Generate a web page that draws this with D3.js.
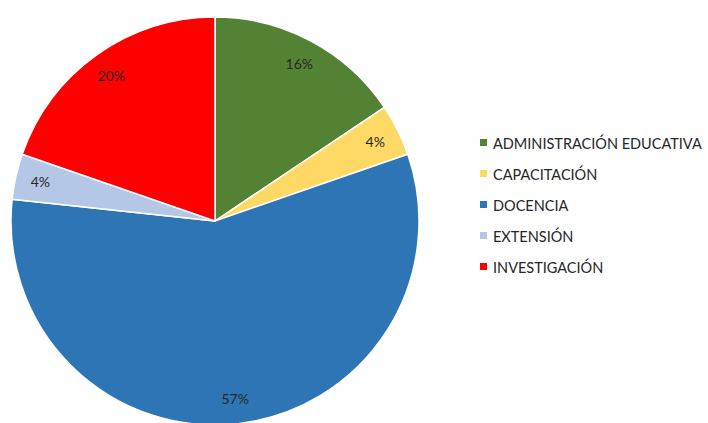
<!DOCTYPE html>
<html><head><meta charset="utf-8">
<script src="https://cdn.jsdelivr.net/npm/d3@7"></script>
<style>body{margin:0;background:#fff}svg{display:block}</style>
</head><body>
<script>
const categories = ["ADMINISTRACIÓN EDUCATIVA","CAPACITACIÓN","DOCENCIA","EXTENSIÓN","INVESTIGACIÓN"];
const values = [15.6, 4.1, 57.0, 3.6, 19.7];
const labels = ["16%","4%","57%","4%","20%"];
const colors = ["#548235","#FFD966","#2E75B6","#B4C7E7","#FF0000"];

const W=708,H=423;
const svg=d3.select("body").append("svg").attr("width",W).attr("height",H);
const cx=215, cy=221, R=204;
const data=categories.map((c,i)=>({c,v:values[i],l:labels[i],col:colors[i]}));
const pie=d3.pie().value(d=>d.v).sort(null);
const arc=d3.arc().innerRadius(0).outerRadius(R);
const labArc=d3.arc().innerRadius(179).outerRadius(179);
const g=svg.append("g").attr("transform",`translate(${cx},${cy})`);
const arcs=pie(data);
g.selectAll("path").data(arcs).join("path").attr("d",arc).attr("fill",d=>d.data.col)
 .attr("stroke","#fff").attr("stroke-width",1.5);
g.selectAll("text").data(arcs).join("text")
 .attr("transform",d=>`translate(${labArc.centroid(d)})`)
 .attr("text-anchor","middle").attr("dominant-baseline","central")
 .attr("font-family","Lato, 'Open Sans', sans-serif").attr("font-size",14).attr("fill","#262626")
 .text(d=>d.data.l);

const lg=svg.append("g").attr("transform","translate(480,143)");
const it=lg.selectAll("g").data(data).join("g").attr("transform",(d,i)=>`translate(0,${i*31})`);
it.append("rect").attr("x",0).attr("y",-4).attr("width",7).attr("height",7).attr("fill",d=>d.col);
it.append("text").attr("x",13).attr("y",0).attr("dominant-baseline","central")
 .attr("font-family","Lato, 'Open Sans', sans-serif").attr("font-size",14.5).attr("fill","#262626")
 .text(d=>d.c);
</script>
</body></html>
